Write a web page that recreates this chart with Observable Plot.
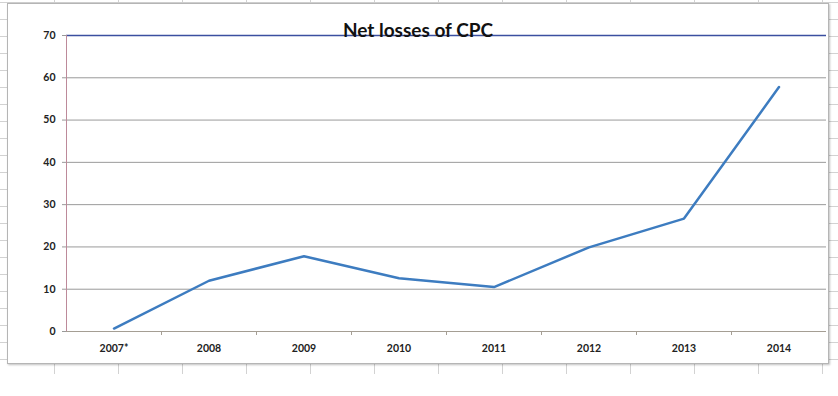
<!DOCTYPE html>
<html><head><meta charset="utf-8">
<script src="https://cdn.jsdelivr.net/npm/d3@7"></script>
<script src="https://cdn.jsdelivr.net/npm/@observablehq/plot@0.6"></script>
<style>
body{margin:0;background:#fff;}
#sheet{position:relative;width:838px;height:396px;overflow:hidden;font-family:Lato,"Open Sans",sans-serif;}
#grid{position:absolute;left:0;top:0;width:838px;height:374px;
background-image:linear-gradient(to right,#d2d2d2 1px,transparent 1px),linear-gradient(to bottom,#d2d2d2 1px,transparent 1px);
background-size:64px 17px;background-position:54px 2px;}
#box{position:absolute;left:7px;top:3px;width:820px;height:359px;background:#fff;border:1px solid #b5b5b5;box-shadow:1px 1px 2px rgba(0,0,0,0.25);}
#chart{position:absolute;left:0;top:0;}
#title{position:absolute;left:0;top:20px;width:836px;text-align:center;font:bold 19px Lato,"Open Sans",sans-serif;color:#111;line-height:19px;}
</style>
</head><body>
<div id="sheet">
  <div id="grid"></div>
  <div id="box"></div>
  <div id="chart"></div>
  <div id="title">Net losses of CPC</div>
</div>
<script>
const years = ["2007*", "2008", "2009", "2010", "2011", "2012", "2013", "2014"];
const losses = [0.7, 12.0, 17.8, 12.6, 10.5, 19.9, 26.7, 57.8];
const yTicks = [0, 10, 20, 30, 40, 50, 60, 70];

const data = years.map((year, i) => ({i, year, value: losses[i]}));
const bounds = d3.range(1, years.length).map(k => k - 0.5);

const chart = Plot.plot({
  width: 838, height: 396,
  marginLeft: 66, marginRight: 12, marginTop: 35, marginBottom: 65,
  style: {background: "transparent", fontFamily: "Lato, 'Open Sans', sans-serif", fontWeight: "bold", fontSize: "10.5px", color: "#222"},
  x: {type: "linear", domain: [-0.5, years.length - 0.5]},
  y: {domain: [0, 70]},
  marks: [
    Plot.gridY(yTicks.slice(1, -1), {stroke: "#9a9a9a", strokeOpacity: 1}),
    Plot.axisY(yTicks, {tickSize: 4, tickPadding: 7, stroke: "#999", label: null}),
    Plot.axisX(bounds, {tickSize: 4, tickFormat: () => "", stroke: "#a59e94", label: null}),
    Plot.axisX(d3.range(years.length), {tickSize: 0, tickPadding: 13, tickFormat: i => years[i], label: null}),
    Plot.ruleY([70], {stroke: "#3b4fa0", strokeWidth: 1.5}),
    Plot.ruleY([0], {stroke: "#a59e94"}),
    Plot.ruleX([-0.5], {stroke: "#bd8a9a"}),
    Plot.line(data, {x: "i", y: "value", stroke: "#3d7cc0", strokeWidth: 2.5})
  ]
});
document.getElementById("chart").append(chart);
</script>
</body></html>
